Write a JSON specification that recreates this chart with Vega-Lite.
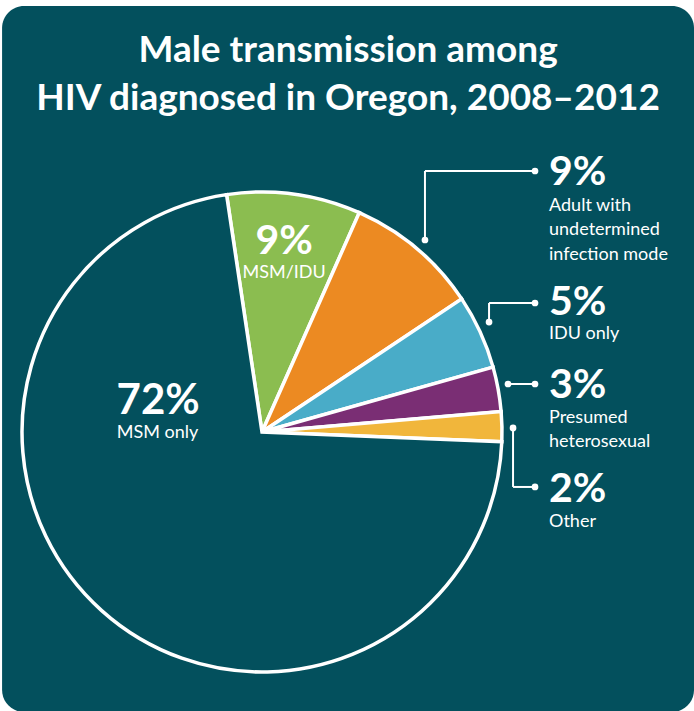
{
  "$schema": "https://vega.github.io/schema/vega-lite/v6.json",
  "width": 480,
  "height": 480,
  "autosize": {"type": "none"},
  "padding": {"left": 22, "top": 192, "right": 192, "bottom": 39},
  "background": "white",
  "config": {"view": {"stroke": null}, "text": {"font": "Lato", "color": "white"}},
  "title": {
    "text": ["Male transmission among", "HIV diagnosed in Oregon, 2008–2012"],
    "font": "Lato",
    "fontSize": 37,
    "fontWeight": "bold",
    "color": "white",
    "lineHeight": 48,
    "anchor": "middle",
    "frame": "bounds",
    "offset": -112
  },
  "data": {
    "values": [
      {"category": "MSM/IDU", "value": 9, "rank": 1, "pct": "9%", "label": "MSM/IDU"},
      {"category": "Adult with undetermined infection mode", "value": 9, "rank": 2, "pct": "9%", "label": ["Adult with", "undetermined", "infection mode"]},
      {"category": "IDU only", "value": 5, "rank": 3, "pct": "5%", "label": "IDU only"},
      {"category": "Presumed heterosexual", "value": 3, "rank": 4, "pct": "3%", "label": ["Presumed", "heterosexual"]},
      {"category": "Other", "value": 2, "rank": 5, "pct": "2%", "label": "Other"},
      {"category": "MSM only", "value": 72, "rank": 6, "pct": "72%", "label": "MSM only"}
    ]
  },
  "layer": [
    {
      "data": {"values": [{}]},
      "mark": {"type": "rect", "fill": "#03505d", "cornerRadius": 22},
      "encoding": {
        "x": {"datum": -108.3, "scale": {"domain": [-100, 100]}, "axis": null},
        "x2": {"datum": 180},
        "y": {"datum": -177.5, "scale": {"domain": [-100, 100], "reverse": true}, "axis": null},
        "y2": {"datum": 116.7}
      }
    },
    {
      "mark": {"type": "arc", "stroke": "white", "strokeWidth": 3.5},
      "encoding": {
        "theta": {"field": "value", "type": "quantitative", "stack": true, "scale": {"range": [-0.148, 6.135]}},
        "order": {"field": "rank", "type": "quantitative"},
        "color": {
          "field": "category",
          "type": "nominal",
          "legend": null,
          "scale": {
            "domain": ["MSM/IDU", "Adult with undetermined infection mode", "IDU only", "Presumed heterosexual", "Other", "MSM only"],
            "range": ["#8bbd50", "#ec8a22", "#49acc8", "#7a2e74", "#f1b63b", "#03505d"]
          }
        }
      }
    },
    {"data": {"values": [{}]}, "mark": {"type": "rule", "color": "white", "strokeWidth": 2},
     "encoding": {"x": {"datum": 67.9, "scale": {"domain": [-100, 100]}, "axis": null}, "y": {"datum": -80, "scale": {"domain": [-100, 100], "reverse": true}, "axis": null}, "y2": {"datum": -108.75}}},
    {"data": {"values": [{}]}, "mark": {"type": "rule", "color": "white", "strokeWidth": 2},
     "encoding": {"x": {"datum": 67.9, "scale": {"domain": [-100, 100]}, "axis": null}, "x2": {"datum": 113.75}, "y": {"datum": -108.75, "scale": {"domain": [-100, 100], "reverse": true}, "axis": null}}},
    {"data": {"values": [{}]}, "mark": {"type": "rule", "color": "white", "strokeWidth": 2},
     "encoding": {"x": {"datum": 94.6, "scale": {"domain": [-100, 100]}, "axis": null}, "y": {"datum": -45.8, "scale": {"domain": [-100, 100], "reverse": true}, "axis": null}, "y2": {"datum": -53.75}}},
    {"data": {"values": [{}]}, "mark": {"type": "rule", "color": "white", "strokeWidth": 2},
     "encoding": {"x": {"datum": 94.6, "scale": {"domain": [-100, 100]}, "axis": null}, "x2": {"datum": 113.75}, "y": {"datum": -53.75, "scale": {"domain": [-100, 100], "reverse": true}, "axis": null}}},
    {"data": {"values": [{}]}, "mark": {"type": "rule", "color": "white", "strokeWidth": 2},
     "encoding": {"x": {"datum": 102.5, "scale": {"domain": [-100, 100]}, "axis": null}, "x2": {"datum": 113.75}, "y": {"datum": -20, "scale": {"domain": [-100, 100], "reverse": true}, "axis": null}}},
    {"data": {"values": [{}]}, "mark": {"type": "rule", "color": "white", "strokeWidth": 2},
     "encoding": {"x": {"datum": 104.6, "scale": {"domain": [-100, 100]}, "axis": null}, "y": {"datum": -1.7, "scale": {"domain": [-100, 100], "reverse": true}, "axis": null}, "y2": {"datum": 22.9}}},
    {"data": {"values": [{}]}, "mark": {"type": "rule", "color": "white", "strokeWidth": 2},
     "encoding": {"x": {"datum": 104.6, "scale": {"domain": [-100, 100]}, "axis": null}, "x2": {"datum": 113.75}, "y": {"datum": 22.9, "scale": {"domain": [-100, 100], "reverse": true}, "axis": null}}},
    {"data": {"values": [{}]}, "mark": {"type": "point", "filled": true, "color": "white", "opacity": 1, "size": 45},
     "encoding": {"x": {"datum": 67.9, "scale": {"domain": [-100, 100]}, "axis": null}, "y": {"datum": -80, "scale": {"domain": [-100, 100], "reverse": true}, "axis": null}}},
    {"data": {"values": [{}]}, "mark": {"type": "point", "filled": true, "color": "white", "opacity": 1, "size": 45},
     "encoding": {"x": {"datum": 113.75, "scale": {"domain": [-100, 100]}, "axis": null}, "y": {"datum": -108.75, "scale": {"domain": [-100, 100], "reverse": true}, "axis": null}}},
    {"data": {"values": [{}]}, "mark": {"type": "point", "filled": true, "color": "white", "opacity": 1, "size": 45},
     "encoding": {"x": {"datum": 94.6, "scale": {"domain": [-100, 100]}, "axis": null}, "y": {"datum": -45.8, "scale": {"domain": [-100, 100], "reverse": true}, "axis": null}}},
    {"data": {"values": [{}]}, "mark": {"type": "point", "filled": true, "color": "white", "opacity": 1, "size": 45},
     "encoding": {"x": {"datum": 113.75, "scale": {"domain": [-100, 100]}, "axis": null}, "y": {"datum": -53.75, "scale": {"domain": [-100, 100], "reverse": true}, "axis": null}}},
    {"data": {"values": [{}]}, "mark": {"type": "point", "filled": true, "color": "white", "opacity": 1, "size": 45},
     "encoding": {"x": {"datum": 102.5, "scale": {"domain": [-100, 100]}, "axis": null}, "y": {"datum": -20, "scale": {"domain": [-100, 100], "reverse": true}, "axis": null}}},
    {"data": {"values": [{}]}, "mark": {"type": "point", "filled": true, "color": "white", "opacity": 1, "size": 45},
     "encoding": {"x": {"datum": 113.75, "scale": {"domain": [-100, 100]}, "axis": null}, "y": {"datum": -20, "scale": {"domain": [-100, 100], "reverse": true}, "axis": null}}},
    {"data": {"values": [{}]}, "mark": {"type": "point", "filled": true, "color": "white", "opacity": 1, "size": 45},
     "encoding": {"x": {"datum": 104.6, "scale": {"domain": [-100, 100]}, "axis": null}, "y": {"datum": -1.7, "scale": {"domain": [-100, 100], "reverse": true}, "axis": null}}},
    {"data": {"values": [{}]}, "mark": {"type": "point", "filled": true, "color": "white", "opacity": 1, "size": 45},
     "encoding": {"x": {"datum": 113.75, "scale": {"domain": [-100, 100]}, "axis": null}, "y": {"datum": 22.9, "scale": {"domain": [-100, 100], "reverse": true}, "axis": null}}},

    {"transform": [{"filter": "datum.rank == 1"}], "mark": {"type": "text", "fontSize": 41, "fontWeight": "bold", "align": "center", "baseline": "alphabetic"},
     "encoding": {"text": {"field": "pct"}, "x": {"datum": 9.2, "scale": {"domain": [-100, 100]}, "axis": null}, "y": {"datum": -74.2, "scale": {"domain": [-100, 100], "reverse": true}, "axis": null}}},
    {"transform": [{"filter": "datum.rank == 1"}], "mark": {"type": "text", "fontSize": 18, "align": "center", "baseline": "alphabetic"},
     "encoding": {"text": {"field": "label"}, "x": {"datum": 9.2, "scale": {"domain": [-100, 100]}, "axis": null}, "y": {"datum": -64.2, "scale": {"domain": [-100, 100], "reverse": true}, "axis": null}}},
    {"transform": [{"filter": "datum.rank == 6"}], "mark": {"type": "text", "fontSize": 42, "fontWeight": "bold", "align": "center", "baseline": "alphabetic"},
     "encoding": {"text": {"field": "pct"}, "x": {"datum": -43.3, "scale": {"domain": [-100, 100]}, "axis": null}, "y": {"datum": -7.5, "scale": {"domain": [-100, 100], "reverse": true}, "axis": null}}},
    {"transform": [{"filter": "datum.rank == 6"}], "mark": {"type": "text", "fontSize": 18, "align": "center", "baseline": "alphabetic"},
     "encoding": {"text": {"field": "label"}, "x": {"datum": -43.5, "scale": {"domain": [-100, 100]}, "axis": null}, "y": {"datum": 2.5, "scale": {"domain": [-100, 100], "reverse": true}, "axis": null}}},

    {"transform": [{"filter": "datum.rank == 2"}], "mark": {"type": "text", "fontSize": 41, "fontWeight": "bold", "align": "left", "baseline": "alphabetic"},
     "encoding": {"text": {"field": "pct"}, "x": {"datum": 119.6, "scale": {"domain": [-100, 100]}, "axis": null}, "y": {"datum": -102.9, "scale": {"domain": [-100, 100], "reverse": true}, "axis": null}}},
    {"transform": [{"filter": "datum.rank == 2"}], "mark": {"type": "text", "fontSize": 18, "align": "left", "baseline": "alphabetic", "lineHeight": 24.5},
     "encoding": {"text": {"field": "label"}, "x": {"datum": 119.6, "scale": {"domain": [-100, 100]}, "axis": null}, "y": {"datum": -92.1, "scale": {"domain": [-100, 100], "reverse": true}, "axis": null}}},
    {"transform": [{"filter": "datum.rank == 3"}], "mark": {"type": "text", "fontSize": 41, "fontWeight": "bold", "align": "left", "baseline": "alphabetic"},
     "encoding": {"text": {"field": "pct"}, "x": {"datum": 119.6, "scale": {"domain": [-100, 100]}, "axis": null}, "y": {"datum": -48.75, "scale": {"domain": [-100, 100], "reverse": true}, "axis": null}}},
    {"transform": [{"filter": "datum.rank == 3"}], "mark": {"type": "text", "fontSize": 18, "align": "left", "baseline": "alphabetic"},
     "encoding": {"text": {"field": "label"}, "x": {"datum": 119.6, "scale": {"domain": [-100, 100]}, "axis": null}, "y": {"datum": -38.75, "scale": {"domain": [-100, 100], "reverse": true}, "axis": null}}},
    {"transform": [{"filter": "datum.rank == 4"}], "mark": {"type": "text", "fontSize": 41, "fontWeight": "bold", "align": "left", "baseline": "alphabetic"},
     "encoding": {"text": {"field": "pct"}, "x": {"datum": 119.6, "scale": {"domain": [-100, 100]}, "axis": null}, "y": {"datum": -14.2, "scale": {"domain": [-100, 100], "reverse": true}, "axis": null}}},
    {"transform": [{"filter": "datum.rank == 4"}], "mark": {"type": "text", "fontSize": 18, "align": "left", "baseline": "alphabetic", "lineHeight": 24},
     "encoding": {"text": {"field": "label"}, "x": {"datum": 119.6, "scale": {"domain": [-100, 100]}, "axis": null}, "y": {"datum": -3.75, "scale": {"domain": [-100, 100], "reverse": true}, "axis": null}}},
    {"transform": [{"filter": "datum.rank == 5"}], "mark": {"type": "text", "fontSize": 41, "fontWeight": "bold", "align": "left", "baseline": "alphabetic"},
     "encoding": {"text": {"field": "pct"}, "x": {"datum": 119.6, "scale": {"domain": [-100, 100]}, "axis": null}, "y": {"datum": 29.2, "scale": {"domain": [-100, 100], "reverse": true}, "axis": null}}},
    {"transform": [{"filter": "datum.rank == 5"}], "mark": {"type": "text", "fontSize": 18, "align": "left", "baseline": "alphabetic"},
     "encoding": {"text": {"field": "label"}, "x": {"datum": 119.6, "scale": {"domain": [-100, 100]}, "axis": null}, "y": {"datum": 39.6, "scale": {"domain": [-100, 100], "reverse": true}, "axis": null}}}
  ]
}
